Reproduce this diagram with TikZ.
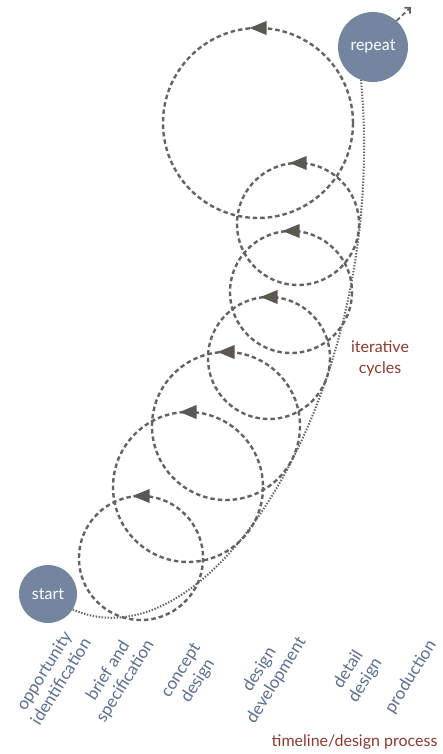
\documentclass[tikz,border=0pt]{standalone}
\usepackage{fontspec}
\setmainfont{Lato}
\usepackage{tikz}
\usetikzlibrary{arrows.meta}
\definecolor{slate}{HTML}{7485A0}
\definecolor{labelblue}{HTML}{5C6E8E}
\definecolor{rust}{HTML}{8A3C30}
\definecolor{loopgray}{HTML}{636363}
\definecolor{tipgray}{HTML}{5B5752}

\begin{document}
\begin{tikzpicture}[x=1pt, y=-1pt,
    stage/.style={circle, fill=slate, text=white, inner sep=0pt, font=\fontsize{16}{19}\selectfont},
    cycleline/.style={loopgray, line width=2.4pt, dash pattern=on 4.5pt off 3pt},
    dotpath/.style={loopgray, line width=2pt, dash pattern=on 1.4pt off 1.6pt},
    phase/.style={labelblue, rotate=58, align=center, font=\fontsize{17}{20}\selectfont},
    note/.style={rust, align=center, font=\fontsize{16}{21}\selectfont}]

    % Frame
    \useasboundingbox (0,0) rectangle (443,754);

    % Iterative cycles: centre x / centre y / radius
    \foreach \cx/\cy/\r in {141/558/62, 188/487/75, 226/426/74, 269/358/61, 291/292/61, 298/224/61, 258/123/95} {
        \draw[cycleline] (\cx,\cy) circle (\r);
        \fill[tipgray] (\cx-8.5,\cy-\r) -- (\cx+8.5,\cy-\r-7) -- (\cx+8.5,\cy-\r+7) -- cycle;
    }

    % Start and repeat
    \node[stage, minimum size=58pt] (start) at (48,594) {start};
    \node[stage, minimum size=70pt] (repeat) at (373,47) {repeat};

    % Overall route
    \draw[dotpath] (start.-32) .. controls (210,670) and (390,390) .. (repeat.250);
    \coordinate (onward) at (411,7);
    \draw[cycleline, line width=1.8pt, -{Straight Barb[length=4pt]}] (repeat.48) -- (onward);

    % Phases along the bottom
    \node[phase] (opp) at (52,676) {opportunity\\identification};
    \node[phase] (brief) at (117,676) {brief and\\specification};
    \node[phase] (concept) at (190,676) {concept\\design};
    \node[phase] (devel) at (268,675) {design\\development};
    \node[phase] (detail) at (357,675) {detail\\design};
    \node[phase] (prod) at (411,677) {production};

    % Notes
    \node[note] (iter) at (380,359) {iterative\\cycles};
    \node[note, anchor=east] (timeline) at (441,742) {timeline/design process};

\end{tikzpicture}
\end{document}
